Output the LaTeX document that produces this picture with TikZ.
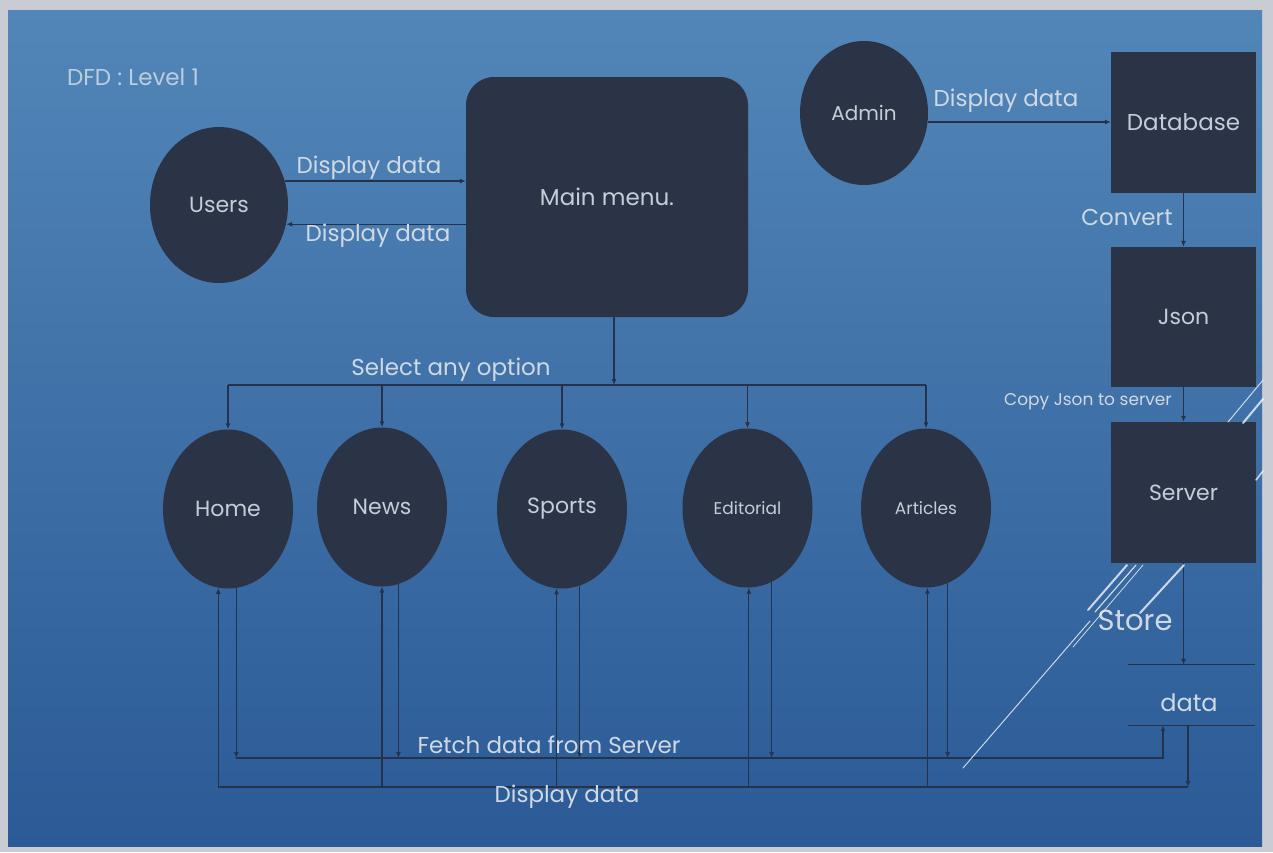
\documentclass[tikz,border=0pt]{standalone}
\usepackage{fontspec}
\setmainfont{Poppins}
\usetikzlibrary{shapes.geometric,arrows.meta,calc}
\definecolor{bgtop}{HTML}{5286B8}
\definecolor{bgbot}{HTML}{2B5A96}
\definecolor{framecol}{HTML}{C9CDD3}
\definecolor{navy}{HTML}{2B3447}
\definecolor{ink}{HTML}{26324A}
\definecolor{lbl}{HTML}{CFD9E4}
\definecolor{intxt}{HTML}{C5CDD8}
\begin{document}
\begin{tikzpicture}[x=1pt,y=-1pt,
  proc/.style={ellipse, fill=navy, draw=none, inner sep=0pt, text=intxt, font=\fontsize{22}{26}\selectfont},
  opt/.style={proc, minimum width=130pt, minimum height=159pt},
  boxnode/.style={rectangle, fill=navy, draw=none, inner sep=0pt, text=intxt, font=\fontsize{22}{26}\selectfont, minimum width=145pt, minimum height=141pt},
  lab/.style={text=lbl, inner sep=0pt, font=\fontsize{23}{27}\selectfont},
  smalllab/.style={lab, font=\fontsize{17}{20}\selectfont},
  flow/.style={draw=ink, line width=1.1pt, -{Latex[length=6pt,width=5pt]}},
  plain/.style={draw=ink, line width=1.1pt},
  deco/.style={draw=white, opacity=0.75, line cap=round}]
\useasboundingbox (0,0) rectangle (1273,852);
\fill[framecol] (0,0) rectangle (1273,852);
\shade[top color=bgtop, bottom color=bgbot] (8,10) rectangle (1262,846);

% title
\node[lab, text=lbl!85!bgtop] (title) at (133,77) {DFD : Level 1};

% top nodes
\node[proc, minimum width=138pt, minimum height=156pt] (users) at (219,205) {Users};
\node[rectangle, rounded corners=28pt, fill=navy, inner sep=0pt, minimum width=282pt, minimum height=240pt, text=intxt, font=\fontsize{23}{27}\selectfont] (menu) at (607,197) {Main menu.};
\node[proc, minimum width=128pt, minimum height=144pt, font=\fontsize{20}{24}\selectfont] (admin) at (864,113) {Admin};
\node[boxnode, font=\fontsize{23}{27}\selectfont] (db) at (1183.5,122.5) {Database};
\node[boxnode, minimum height=140pt] (json) at (1183.5,317) {Json};
\node[boxnode] (server) at (1183.5,492.5) {Server};

% data store
\node[minimum width=127pt, minimum height=60pt, inner sep=0pt] (store) at (1191.5,695) {};
\node[lab, font=\fontsize{24}{28}\selectfont] (storetxt) at (1189,703) {data};
\draw[plain] (store.north west) -- (store.north east);
\draw[plain] (store.south west) -- (store.south east);

% option processes
\node[opt] (home) at (228,509) {Home};
\node[opt] (news) at (382,507) {News};
\node[opt] (sports) at (562,509) {Sports};
\node[opt, font=\fontsize{17}{20}\selectfont] (editorial) at (747.5,508) {Editorial};
\node[opt, font=\fontsize{17}{20}\selectfont] (articles) at (926,508) {Articles};

% users <-> main menu
\draw[flow] (users.20) -- (users.20 -| menu.west);
\draw[flow] (menu.west |- users.-16) -- (users.-16);
\node[lab] (l1) at (369,168) {Display data};
\node[lab] (l2) at (378,236) {Display data};

% admin -> database -> json -> server
\draw[flow] (admin.-8) -- (admin.-8 -| db.west);
\node[lab] (l3) at (1006,101) {Display data};
\draw[flow] (db.south) -- (json.north);
\node[lab] (l4) at (1127,217) {Convert};
\draw[flow] (json.south) -- (server.north);
\node[smalllab] (l5) at (1088,402) {Copy Json to server};

% server -> store
\draw[flow] (server.south) -- (server.south |- store.north);
\node[lab, font=\fontsize{29}{33}\selectfont] (l6) at (1135,620) {Store};

% main menu -> options
\coordinate (bus) at (614,385);
\coordinate (mdrop) at ($(menu.south)+(7,0)$);
\draw[flow] (mdrop) -- (mdrop |- bus);
\draw[plain] (home.north |- bus) -- (articles.north |- bus);
\foreach \n in {home,news,sports,editorial,articles}
  \draw[flow] (\n.north |- bus) -- (\n.north);
\node[lab] (l7) at (451,370) {Select any option};

% bottom: fetch and display
\coordinate (fetchy) at (0,758);
\coordinate (dispy) at (0,787);
\coordinate (fetchR) at (1163,758);
\coordinate (dispR) at (1188,787);
\foreach \n/\u/\d in {home/-97/-84, news/-90/-78, sports/-94/-77, editorial/-89/-72, articles/-89/-74} {
  \draw[flow] (\n.\d) -- (\n.\d |- fetchy);
  \draw[flow] (\n.\u |- dispy) -- (\n.\u);
}
\draw[flow] (home.-84 |- fetchy) -- (fetchR) -- (fetchR |- store.south);
\draw[flow] (dispR |- store.south) -- (dispR);
\draw[plain] (dispR) -- (home.-97 |- dispy);
\node[lab] (l8) at (549,745) {Fetch data from Server};
\node[lab] (l9) at (567,797) {Display data};

% decorative slide lines
\draw[deco, line width=1pt] (963,768) -- (1090,621);
\draw[deco, line width=2pt] (1088,610) -- (1127,565);
\draw[deco, line width=1.2pt] (1095,612) -- (1136,565);
\draw[deco, line width=0.8pt] (1073,647) -- (1143,565);
\draw[deco, line width=2pt] (1140,613) -- (1184,565);
\draw[deco, line width=1pt] (1228,422) -- (1263,380);
\draw[deco, line width=2pt] (1243,423) -- (1263,399);
\draw[deco, line width=1.5pt] (1256,480) -- (1263,471);
\end{tikzpicture}
\end{document}
